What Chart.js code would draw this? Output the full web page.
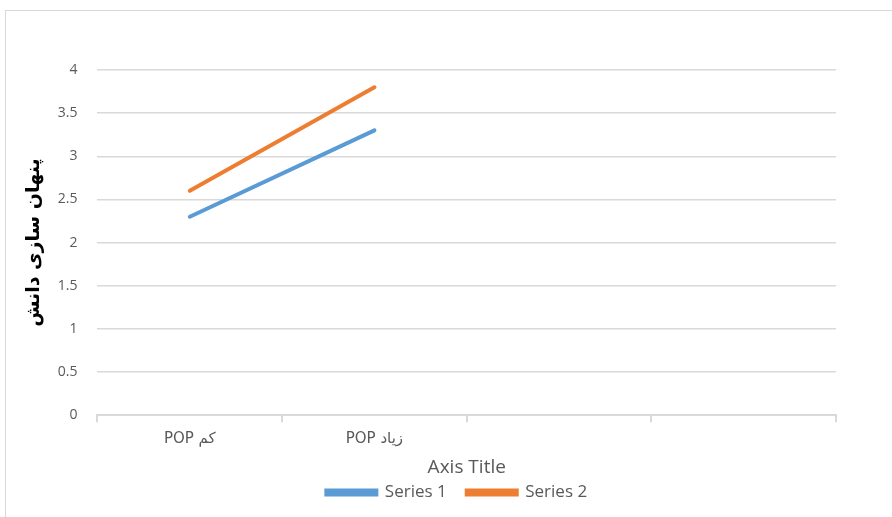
<!DOCTYPE html>
<html>
<head>
<meta charset="utf-8">
<script src="https://cdn.jsdelivr.net/npm/chart.js@4.4.0/dist/chart.umd.min.js"></script>
<style>
  html, body { margin: 0; padding: 0; background: #fff; overflow: hidden; }
  #frame { position: absolute; left: 5px; top: 10px; width: 900px; height: 520px;
           border: 1px solid #d9d9d9; box-sizing: border-box; }
  #wrap { position: absolute; left: 0; top: 0; width: 892px; height: 517px; }
</style>
</head>
<body>
<div id="frame"></div>
<div id="wrap"><canvas id="c" width="892" height="517"></canvas></div>
<script>
// Categories on the horizontal axis (two empty slots follow the labelled ones)
const categories = ['POP کم', 'POP زیاد', '', ''];
// Series values
const series1 = [2.3, 3.3, null, null];
const series2 = [2.6, 3.8, null, null];
// Vertical axis range
const yMin = 0;
const yMax = 4;
const yStep = 0.5;
const yTitle = 'پنهان سازی دانش';
const xTitle = 'Axis Title';

const grey = '#595959';
const gridGrey = '#d9d9d9';
const baseFont = '"Open Sans", Lato, sans-serif';
const legendPad = 20;      // horizontal gap between legend entries
const legendLift = 15;     // pull the legend row up close to the axis title

// Centre the legend row under the plot area and tuck it under the axis title
const legendUnderPlot = {
  id: 'legendUnderPlot',
  afterLayout(chart) {
    const l = chart.legend, a = chart.chartArea;
    if (!l) return;
    l.left = a.left - legendPad;
    l.right = a.right;
    l.top -= legendLift;
    l.bottom -= legendLift;
    if (l.adjustHitBoxes) l.adjustHitBoxes();
  }
};

new Chart(document.getElementById('c'), {
  type: 'line',
  data: {
    labels: categories,
    datasets: [
      { label: 'Series 1', data: series1, borderColor: '#5B9BD5', backgroundColor: '#5B9BD5',
        borderWidth: 4, pointRadius: 0, borderCapStyle: 'round', tension: 0 },
      { label: 'Series 2', data: series2, borderColor: '#ED7D31', backgroundColor: '#ED7D31',
        borderWidth: 4, pointRadius: 0, borderCapStyle: 'round', tension: 0 }
    ]
  },
  plugins: [legendUnderPlot],
  options: {
    responsive: false,
    animation: false,
    devicePixelRatio: 1,
    layout: { padding: { left: 23, top: 70, right: 56, bottom: -9 } },
    plugins: {
      tooltip: { enabled: false },
      legend: {
        position: 'bottom',
        labels: {
          color: grey,
          font: { family: baseFont, size: 17 },
          boxWidth: 50,
          boxHeight: 4,
          padding: legendPad
        }
      }
    },
    scales: {
      x: {
        offset: true,
        grid: { offset: true, drawOnChartArea: false, drawTicks: true, tickLength: 7, color: gridGrey, lineWidth: 2 },
        border: { display: true, color: gridGrey, width: 2 },
        ticks: { color: grey, font: { family: '"DejaVu Sans", sans-serif', size: 15 }, padding: 8, maxRotation: 0 },
        title: { display: true, text: xTitle, color: grey, font: { family: baseFont, size: 19 }, padding: { top: 0, bottom: 0 } }
      },
      y: {
        min: yMin,
        max: yMax,
        ticks: {
          stepSize: yStep, color: grey, font: { family: baseFont, size: 14 }, padding: 20,
          callback: (v) => String(v)
        },
        grid: { color: gridGrey, lineWidth: 1.5, drawTicks: false },
        border: { display: false },
        title: { display: true, text: yTitle, color: '#000', font: { family: '"DejaVu Sans", sans-serif', size: 19, weight: 'bold' }, padding: { top: 0, bottom: -8 } }
      }
    }
  }
});
</script>
</body>
</html>
